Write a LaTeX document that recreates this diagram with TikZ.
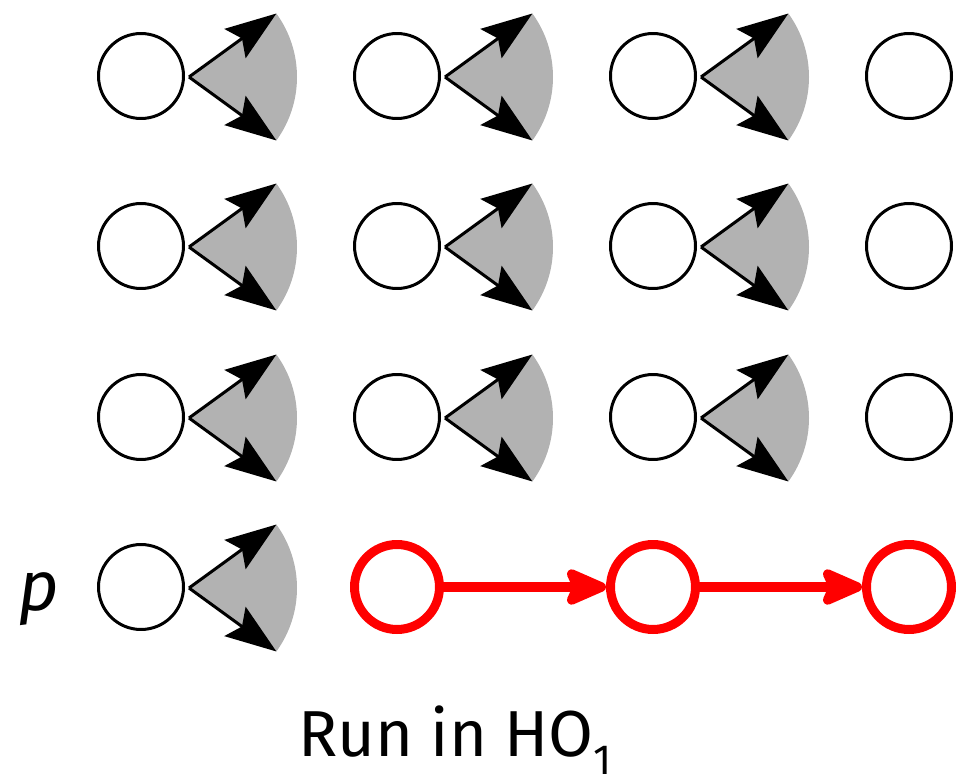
\documentclass[tikz,border=0pt]{standalone}
\usepackage{fontspec}
\setmainfont{Fira Sans}
\usetikzlibrary{arrows.meta}

\tikzset{
  proc/.style={draw=black,line width=0.06cm,shape=circle,minimum size=1.7cm,inner sep=0pt},
  redproc/.style={draw=red,line width=0.18cm,shape=circle,minimum size=1.7cm,inner sep=0pt},
  choice/.style={fill=black!30},
  send/.style={line width=0.06cm,-{Stealth[length=1.02cm,width=0.72cm,inset=0.17cm]}},
  redsend/.style={red,line width=0.19cm,-{Stealth[round,length=1.0cm,width=0.85cm,inset=0.18cm]}}
}

\begin{document}
\begin{tikzpicture}[x=0.02cm,y=-0.02cm]
        \useasboundingbox (0,0) rectangle (957,781);
        % processes that may send to anyone
        \foreach \n/\x/\y in {11/141/76,12/397/76,13/653/76,21/141/246,22/397/246,23/653/246,31/141/417,32/397/417,33/653/417,41/141/587}{
          \coordinate (a\n) at (\x+48,\y+1);
          \fill[choice] (a\n) -- ++(-36:108) arc[start angle=-36,end angle=36,radius=108] -- cycle;
          \path (a\n) ++(-36:108) coordinate (u\n);
          \path (a\n) ++(36:108) coordinate (d\n);
          \draw[send] (a\n) -- (u\n);
          \draw[send] (a\n) -- (d\n);
          \node[proc] (n\n) at (\x,\y) {};
        }
        \foreach \n/\y in {14/76,24/246,34/417}
          \node[proc] (n\n) at (909,\y) {};
        % the run of p
        \node[redproc] (n42) at (397,587) {};
        \node[redproc] (n43) at (653,587) {};
        \node[redproc] (n44) at (909,587) {};
        \draw[redsend] (n42) -- (n43);
        \draw[redsend] (n43) -- (n44);
        \node[font=\fontsize{40}{48}\selectfont\itshape,anchor=base] (plabel) at (39,610) {p};
        \node[font=\fontsize{37}{44}\selectfont,anchor=base] (caption) at (455,756) {Run in HO\raisebox{-0.28em}{\fontsize{24}{28}\selectfont 1}};
      \end{tikzpicture}
\end{document}
